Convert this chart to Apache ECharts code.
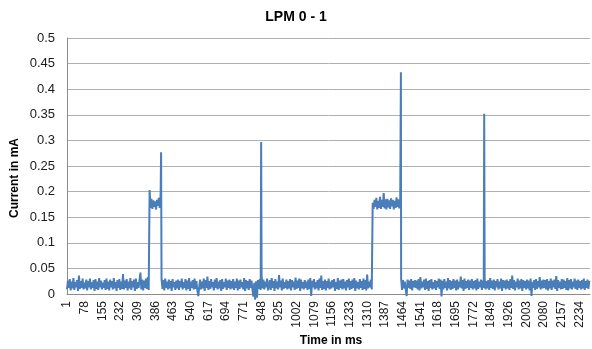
<!DOCTYPE html>
<html>
<head>
<meta charset="utf-8">
<title>LPM 0 - 1</title>
<script src="https://cdn.jsdelivr.net/npm/echarts@6/dist/echarts.min.js"></script>
<style>
  html, body { margin: 0; padding: 0; background: #ffffff; }
  #chart { width: 592px; height: 349px; }
</style>
</head>
<body>
<div id="chart"></div>
<script>
// Time axis: one category per millisecond.
const lastTimeMs = 2280;
const labelEveryMs = 77;

// Y axis range and step, in mA.
const yMin = 0;
const yMax = 0.5;
const yStep = 0.05;

// Measured current in µA, one sample every 4 ms starting at 1 ms.
const firstSampleMs = 1;
const sampleStepMs = 4;
const currentMicroAmps = [
  9, 26, 12, 29, 7, 24, 11, 31, 8, 23, 13, 27, 6, 36, 10, 25, 12, 30, 9, 22,           // 1-77 ms
  11, 28, 7, 25, 13, 30, 9, 23, 12, 27, 6, 29, 10, 24, 8, 31, 13, 26, 9, 22,           // 81-157
  12, 27, 8, 30, 10, 24, 7, 28, 13, 25, 9, 31, 11, 23, 6, 27, 12, 29, 8, 24,           // 161-237
  10, 39, 9, 26, 12, 29, 7, 24, 11, 31, 8, 25, 13, 28, 6, 30, 10, 23, 12, 27,          // 241-317
  42, 9, 28, 7, 26, 12, 30, 10, 33, 8, 203, 168, 186, 166, 183, 170, 181, 165, 184, 172, // 321-397
  188, 168, 195, 29, 10, 27, 7, 30, 12, 24, 9, 28, 11, 25, 6, 29, 13, 23, 8, 26,       // 401-477
  11, 28, 8, 25, 13, 30, 9, 23, 12, 29, 7, 26, 10, 31, 6, 24, 12, 27, 9, 30,           // 481-557
  10, 25, 7, -4, 13, 28, 9, 24, 11, 30, 6, 27, 12, 34, 8, 25, 10, 29, 13, 23,          // 561-637
  7, 28, 12, 31, 9, 24, 11, 27, 6, 29, 10, 23, 13, 30, 8, 26, 12, 28, 9, 25,           // 641-717
  11, 29, 8, 24, 12, 30, 7, 26, 10, 28, 13, 23, 9, 31, 6, 27, 11, 25, 8, 29,           // 721-797
  12, 26, 9, -5, 22, -11, 25, -7, 27, 10, 29, 8, 35, 11, 28, 9, 24, 13, 30, 7,         // 801-877
  10, 27, 8, 31, 12, 25, 6, 29, 11, 24, 9, 37, 13, 26, 7, 30, 10, 23, 12, 28,          // 881-957
  9, 25, 11, 29, 7, 27, 13, 24, 8, 32, 10, 26, 12, 30, 6, 28, 11, 23, 9, 27,           // 961-1037
  12, 24, 8, 28, 10, 31, -4, 26, 13, 29, 9, 23, 11, 27, 7, 30, 12, 36, 8, 25,          // 1041-1117
  10, 28, 7, 25, 12, 30, 9, 24, 11, 27, 13, 29, 6, 23, 10, 31, 8, 26, 12, 28,          // 1121-1197
  9, 29, 11, 24, 7, 27, 13, 30, 8, 25, 10, 28, 12, 31, 6, 26, 11, 23, 9, 29,           // 1201-1277
  12, 25, 8, 30, 10, 27, 7, 38, 11, 24, 13, 28, 9, 178, 166, 184, 170, 188, 165, 182,  // 1281-1357
  168, 190, 166, 184, 170, 197, 167, 185, 165, 186, 169, 183, 166, 187, 171, 184, 165, 182, 168, 189, // 1361-1437
  170, 185, 167, 181, 30, 8, 27, 11, 24, 9, -4, 28, 12, 26, 10, 29, 7, 25, 13, 27,     // 1441-1517
  12, 26, 9, 29, 7, 33, 11, 24, 13, 28, 8, 30, 10, 25, 6, 27, 12, 29, 9, 23,           // 1521-1597
  11, 27, 8, 25, 13, 30, 10, 28, -5, 26, 9, 29, 12, 24, 7, 31, 11, 27, 8, 25,          // 1601-1677
  10, 29, 12, 26, 7, 28, 9, 24, 13, 34, 11, 27, 6, 30, 10, 25, 12, 28, 8, 26,          // 1681-1757
  12, 29, 9, 25, 11, 27, 7, 30, 10, 24, 13, 28, 8, 26, 12, 29, 9, 25, 11, 27,          // 1761-1837
  8, 31, 12, 26, 10, 28, 7, 25, 13, 29, 9, 24, 11, 30, 6, 27, 12, 26, 9, 28,           // 1841-1917
  11, 25, 8, 29, 12, 36, 10, 27, 7, 24, 13, 30, 9, 26, 11, 29, 6, 27, 12, 25,          // 1921-1997
  9, 28, 11, 26, 7, 30, -4, 24, 12, 27, 8, 29, 10, 25, 13, 33, 9, 26, 11, 28,          // 2001-2077
  12, 27, 9, 29, 7, 25, 11, 30, 8, 26, 13, 28, 10, 35, 6, 27, 12, 24, 9, 29,           // 2081-2157
  10, 28, 12, 25, 8, 31, 7, 27, 11, 29, 9, 24, 13, 30, 10, 26, 8, 28, 12, 25,          // 2161-2237
  9, 27, 11, 30, 8, 25, 12, 28, 10, 26                                                 // 2241-2277
];

// Short current peaks between regular samples: [time in ms, current in µA].
const spikeMicroAmps = [
  [411, 277],
  [847, 297],
  [1456, 433],
  [1819, 352]
];

// Category names for the time axis.
const timeCategories = [];
for (let t = 1; t <= lastTimeMs; t++) timeCategories.push(String(t));

// Merge regular samples and peaks in time order; x is the category index.
const points = currentMicroAmps.map((v, i) => [firstSampleMs + i * sampleStepMs, v]);
spikeMicroAmps.forEach(p => points.push(p));
points.sort((a, b) => a[0] - b[0]);
const seriesData = points.map(([t, v]) => [t - 1, v / 1000]);

const FONT = '"Liberation Sans", Arial, sans-serif';

const chart = echarts.init(document.getElementById('chart'), null, { renderer: 'canvas' });
chart.setOption({
  animation: false,
  backgroundColor: '#ffffff',
  title: {
    text: 'LPM 0 - 1',
    left: 'center',
    top: 5,
    textStyle: { fontFamily: FONT, fontSize: 14, fontWeight: 'bold', color: '#000000' }
  },
  grid: { left: 67, right: 2, top: 38, bottom: 55, containLabel: false },
  xAxis: {
    type: 'category',
    data: timeCategories,
    boundaryGap: false,
    axisLine: { show: true, lineStyle: { color: '#8c8c8c', width: 1 } },
    axisTick: { show: false },
    axisLabel: {
      interval: labelEveryMs - 1,
      rotate: 90,
      margin: 7,
      fontFamily: FONT,
      fontSize: 12,
      color: '#1a1a1a'
    },
    splitLine: { show: false }
  },
  yAxis: {
    type: 'value',
    min: yMin,
    max: yMax,
    interval: yStep,
    axisLine: { show: true, lineStyle: { color: '#8c8c8c', width: 1 } },
    axisTick: { show: false },
    axisLabel: { margin: 12, fontFamily: FONT, fontSize: 13, color: '#1a1a1a' },
    splitLine: { show: true, lineStyle: { color: '#b0b0b0', width: 1 } }
  },
  graphic: [
    {
      type: 'text',
      x: 15, y: 178,
      rotation: Math.PI / 2,
      style: {
        text: 'Current in mA',
        font: 'bold 12px ' + FONT,
        fill: '#000000',
        align: 'center',
        verticalAlign: 'middle'
      }
    },
    {
      type: 'text',
      x: 331, y: 341,
      style: {
        text: 'Time in ms',
        font: 'bold 12px ' + FONT,
        fill: '#000000',
        align: 'center',
        verticalAlign: 'middle'
      }
    }
  ],
  series: [
    {
      type: 'line',
      data: seriesData,
      symbol: 'none',
      clip: false,
      lineStyle: { color: '#4a7ebb', width: 2 },
      emphasis: { disabled: true }
    }
  ]
});
</script>
</body>
</html>
